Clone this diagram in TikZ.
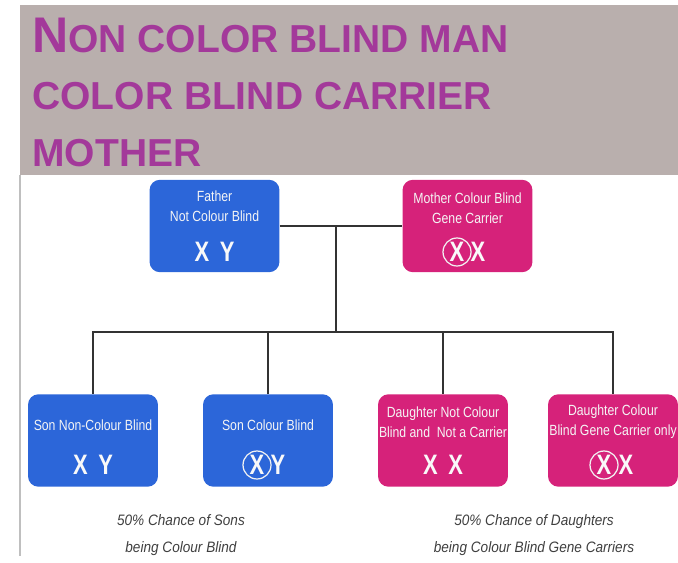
\documentclass[tikz,border=0pt]{standalone}
\usepackage{fontspec}
\setmainfont{Liberation Sans}
\newfontfamily\boxfont[FakeStretch=0.83]{Liberation Sans}
\newfontfamily\genefont[FakeStretch=0.78]{Liberation Sans}
\newfontfamily\notefont[FakeStretch=0.9]{Liberation Sans}
\usetikzlibrary{calc}

\definecolor{boyblue}{HTML}{2C66D9}
\definecolor{girlpink}{HTML}{D6227A}
\definecolor{headgray}{HTML}{B9AFAD}
\definecolor{headtext}{HTML}{A3399A}
\definecolor{capgray}{HTML}{3F3F3F}

\tikzset{
  person/.style={rounded corners=6pt, minimum width=2.6cm, minimum height=1.85cm, inner sep=0pt},
  male/.style={person, fill=boyblue},
  female/.style={person, fill=girlpink},
  who/.style={text=white!92!gray, align=center, inner sep=0pt, font=\boxfont\fontsize{8.4}{11.5}\selectfont},
  genes/.style={text=white!95!gray, inner sep=0pt, font=\genefont\bfseries\fontsize{16}{16}\selectfont},
  ringed/.style={genes, draw=white!90!gray, circle, line width=0.7pt, minimum size=0.56cm},
  tree/.style={draw=black!80, line width=1.1pt},
  caption/.style={text=capgray, align=center, font=\notefont\itshape\fontsize{8.6}{15}\selectfont},
  heading/.style={text=headtext, anchor=base west, inner sep=0pt, font=\bfseries\fontsize{22.2}{24}\selectfont}
}

\begin{document}
\begin{tikzpicture}[x=0.02cm, y=-0.02cm]
 \useasboundingbox (0,0) rectangle (678,563);

 % header
 \fill[headgray] (20,5) rectangle (678,175);
 \draw[black!25, line width=0.8pt] (20,175) -- (20,556);
 \node[heading] (headA) at (32,53) {{\fontsize{28.5}{28}\selectfont N}ON COLOR BLIND MAN};
 \node[heading] (headB) at (32,110) {COLOR BLIND CARRIER};
 \node[heading] (headC) at (32,167) {MOTHER};

 % parents
 \node[male] (father) at (214.5,226) {};
 \node[female] (mother) at (467.5,226) {};
 \node[who] (fatherW) at (214.5,206) {Father\\Not Colour Blind};
 \node[genes] (fatherG) at (214.5,252) {X\hspace{6pt}Y};
 \node[who] (motherW) at (467.5,208) {Mother Colour Blind\\Gene Carrier};
 \node[ringed] (motherX) at (457,252) {X};
 \node[genes] (motherG) at (478,252) {X};

 % children
 \node[male] (sonA) at (93,440.5) {};
 \node[male] (sonB) at (268,440.5) {};
 \node[female] (dauA) at (443,440.5) {};
 \node[female] (dauB) at (613,440.5) {};

 \node[who] (sonAW) at (93,425) {Son Non-Colour Blind};
 \node[genes] (sonAG) at (93,465) {X\hspace{6pt}Y};
 \node[who] (sonBW) at (268,425) {Son Colour Blind};
 \node[ringed] (sonBX) at (257,465) {X};
 \node[genes] (sonBG) at (278,465) {Y};
 \node[who] (dauAW) at (443,422) {Daughter Not Colour\\Blind and\ \ Not a Carrier};
 \node[genes] (dauAG) at (443,465) {X\hspace{6pt}X};
 \node[who] (dauBW) at (613,422) {Daughter Colour\\Blind Gene Carrier only};
 \node[ringed] (dauBX) at (604,465) {X};
 \node[genes] (dauBG) at (626,465) {X};

 % lines
 \coordinate (pair) at (336,226);
 \coordinate (bar) at (336,332);
 \draw[tree] (father) -- (mother);
 \draw[tree] (pair) -- (bar);
 \foreach \kid in {sonA,sonB,dauA,dauB}
   \draw[tree] (bar) -| (\kid.north);

 % notes
 \node[caption] (sonsNote) at (181,535) {50\% Chance of Sons\\being Colour Blind};
 \node[caption] (dausNote) at (534,535) {50\% Chance of Daughters\\being Colour Blind Gene Carriers};
\end{tikzpicture}
\end{document}
